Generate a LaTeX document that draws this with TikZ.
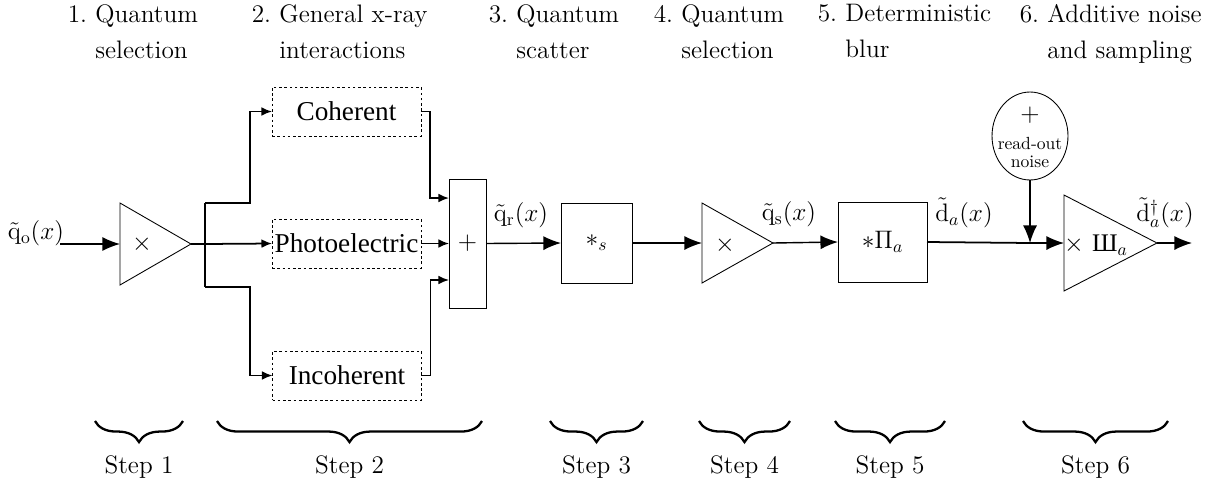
\documentclass[tikz,border=0pt]{standalone}
\usepackage{fontspec}
\newfontfamily\boxfont{Liberation Serif}
\newfontfamily\shafont{Liberation Serif}
\usetikzlibrary{arrows.meta,shapes.geometric,decorations.pathreplacing}

\begin{document}
\begin{tikzpicture}[x=0.02cm, y=-0.02cm,
    font=\Large,
    lbl/.style={inner sep=1pt},
    sig/.style={-{Latex[length=10pt,width=8pt]}, line width=0.8pt},
    wire/.style={line width=1pt},
    split/.style={-{Latex[length=6pt,width=5pt]}, line width=1pt},
    amp/.style={draw, line width=0.5pt, isosceles triangle, isosceles triangle stretches,
      inner sep=0pt, outer sep=0pt, anchor=west},
    blk/.style={draw, line width=0.5pt, rectangle, inner sep=0pt, outer sep=0pt},
    proc/.style={draw, dash pattern=on 1.5pt off 1.5pt, line width=0.5pt, inner sep=0pt,
      outer sep=0pt, minimum width=2.98cm, minimum height=0.98cm,
      font=\boxfont\fontsize{15.5}{18}\selectfont},
    head/.style={anchor=north west, inner sep=0pt, align=left,
      font=\fontsize{14.4}{20.5}\selectfont},
    brc/.style={decorate, decoration={brace, mirror, amplitude=12pt}, line width=1.3pt}]
  \useasboundingbox (0,0) rectangle (1223,477);

  % headings
  \node[head] (h1) at (95,4)   {\llap{1.\ }Quantum\\selection};
  \node[head] (h2) at (279,4)  {\llap{2.\ }General x-ray\\interactions};
  \node[head] (h3) at (516,4)  {\llap{3.\ }Quantum\\scatter};
  \node[head] (h4) at (681,4)  {\llap{4.\ }Quantum\\selection};
  \node[head] (h5) at (845,4)  {\llap{5.\ }Deterministic\\blur};
  \node[head] (h6) at (1047,4) {\llap{6.\ }Additive noise\\and sampling};

  % step 1
  \coordinate (in) at (60,244);
  \node[lbl] (qo) at (36,233) {$\tilde{\mathrm{q}}_{\mathrm{o}}(x)$};
  \node[amp, minimum height=1.42cm, minimum width=1.64cm] (tri1) at (120,244) {};
  \node[lbl] (m1) at (142,244) {$\times$};

  % step 2
  \coordinate (br) at (205,244);
  \coordinate (bu) at (205,203);
  \coordinate (bd) at (205,287);
  \node[proc] (coh) at (346.5,111.5) {Coherent};
  \node[proc] (pho) at (346.5,243.5) {Photoelectric};
  \node[proc] (inc) at (347,375.5)   {Incoherent};
  \node[blk, minimum width=0.74cm, minimum height=2.58cm] (sum) at (467.5,243.5) {$+$};
  \node[lbl] (qr) at (521,215) {$\tilde{\mathrm{q}}_{\mathrm{r}}(x)$};

  % step 3 and 4
  \node[blk, minimum width=1.42cm, minimum height=1.6cm] (scat) at (596.5,243) {$*_s$};
  \node[amp, minimum height=1.42cm, minimum width=1.6cm] (tri2) at (702,243) {};
  \node[lbl] (m2) at (725,245) {$\times$};
  \node[lbl] (qs) at (789,214) {$\tilde{\mathrm{q}}_{\mathrm{s}}(x)$};

  % step 5
  \node[blk, minimum width=1.78cm, minimum height=1.6cm] (blur) at (882.5,242) {$\ast\Pi_a$};
  \node[lbl] (da) at (964,213) {$\tilde{\mathrm{d}}_a(x)$};

  % step 6
  \coordinate (jn) at (1030,243);
  \node[draw, ellipse, line width=0.5pt, minimum width=1.52cm, minimum height=1.76cm] (noise) at (1030,136) {};
  \node[align=center, inner sep=0pt, font=\fontsize{10}{10}\selectfont] (nt) at (1030,137)
    {{\Large$+$}\\[6pt]read-out\\noise};
  \node[amp, minimum height=1.86cm, minimum width=1.92cm] (tri3) at (1064,243) {};
  \node[lbl] (m3) at (1096,245) {$\times$ {\shafont Ш}$_a$};
  \node[lbl] (dd) at (1165,213) {$\tilde{\mathrm{d}}^{\dagger}_a(x)$};
  \coordinate (out) at (1192,243);

  % signal flow
  \draw[sig] (in) -- (tri1.west);
  \draw[wire] (tri1.east) -- (br);
  \draw[wire] (bu) -- (bd);
  \draw[split] (bu) -- ++(45,0) |- (coh.west);
  \draw[split] (br) -- (pho.west);
  \draw[split] (bd) -- ++(45,0) |- (inc.west);
  \draw[split] (coh.east) -- ++(9,0) |- ([yshift=0.91cm]sum.west);
  \draw[split] (pho.east) -- (sum.west);
  \draw[split] (inc.east) -- ++(9,0) |- ([yshift=-0.73cm]sum.west);
  \draw[sig] (sum.east) -- (scat.west);
  \draw[sig] (scat.east) -- (tri2.west);
  \draw[sig] (tri2.east) -- (blur.west);
  \draw[wire] (blur.east) -- (jn);
  \draw[sig] (noise.south) -- (jn);
  \draw[sig] (jn) -- (tri3.west);
  \draw[sig] (tri3.east) -- (out);

  % steps
  \draw[brc] (95,421) -- (183,421) node[midway, below=0.68cm, inner sep=0pt] (s1) {Step 1};
  \draw[brc] (217,421) -- (482,421) node[midway, below=0.68cm, inner sep=0pt] (s2) {Step 2};
  \draw[brc] (550,421) -- (643,421) node[midway, below=0.68cm, inner sep=0pt] (s3) {Step 3};
  \draw[brc] (699,421) -- (790,421) node[midway, below=0.68cm, inner sep=0pt] (s4) {Step 4};
  \draw[brc] (835,421) -- (945,421) node[midway, below=0.68cm, inner sep=0pt] (s5) {Step 5};
  \draw[brc] (1023,421) -- (1168,421) node[midway, below=0.68cm, inner sep=0pt] (s6) {Step 6};
\end{tikzpicture}
\end{document}
